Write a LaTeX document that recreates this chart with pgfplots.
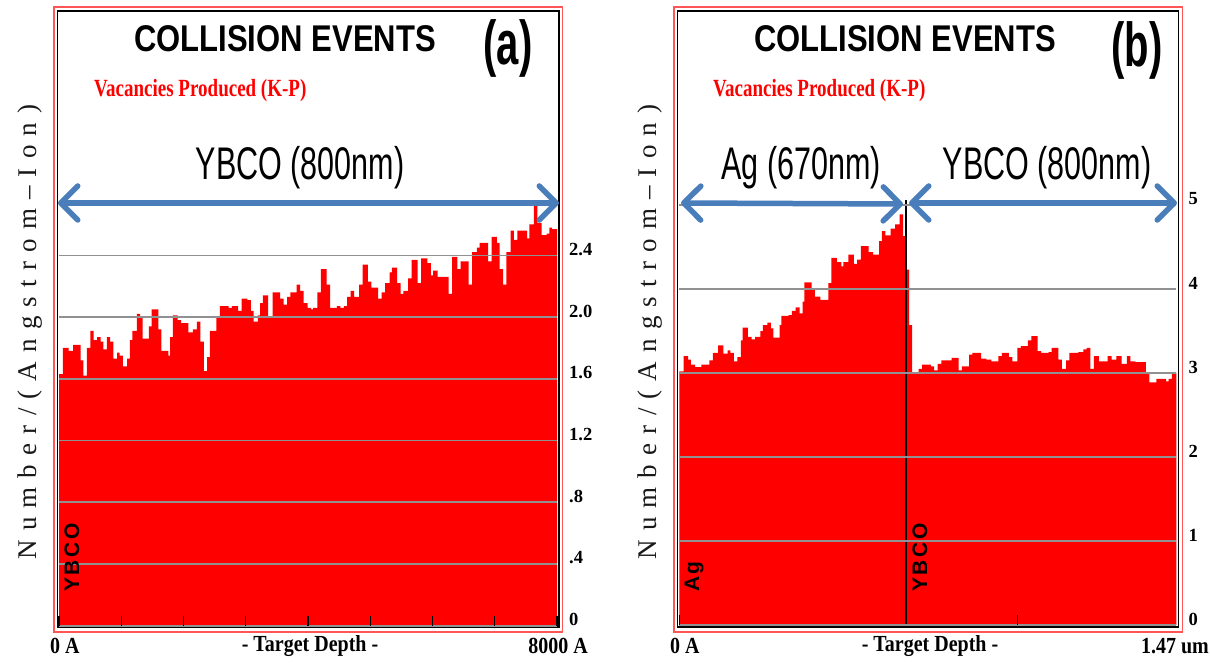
\documentclass[border=0pt]{standalone}
\usepackage{fontspec}
\setmainfont{Liberation Serif}
\setsansfont{Liberation Sans}
\newfontfamily\spacedserif[LetterSpace=34]{Liberation Serif}
\newfontfamily\spacedsans[LetterSpace=12]{Liberation Sans}
\usepackage{graphicx}
\usepackage{pgfplots}
\pgfplotsset{compat=1.18}
\usetikzlibrary{arrows.meta}

\definecolor{arrowblue}{RGB}{74,126,187}
\definecolor{framered}{RGB}{255,85,85}
\definecolor{gridgray}{RGB}{145,145,145}

\pgfplotsset{srim/.style={
  scale only axis, axis on top, anchor=south west,
  axis line style={draw=none},
  ymin=0, ymajorgrids, grid style={gridgray, line width=1.6pt},
  tick align=inside, major tick length=10pt,
  xtick pos=lower, xtick style={black, line width=1.3pt},
  ytick style={draw=none}, yticklabel pos=right,
  xticklabels={},
  yticklabel style={font=\fontsize{18.5}{18.5}\selectfont\bfseries, anchor=west,
    inner sep=0pt, xshift=12pt, yshift=6pt},
}}

\newcommand{\paneltitle}[1]{\scalebox{1}[1.2]{\fontsize{31}{31}\selectfont\sffamily\bfseries #1}}
\newcommand{\panelletter}[1]{\scalebox{1}[1.55]{\fontsize{40}{40}\selectfont\sffamily\bfseries #1}}
\newcommand{\vacancies}{\scalebox{1}[1.3]{\fontsize{19}{19}\selectfont\bfseries Vacancies Produced (K-P)}}
\newcommand{\layer}[1]{\scalebox{1}[1.5]{\fontsize{30.5}{30.5}\selectfont\sffamily #1}}
\newcommand{\ylab}{\fontsize{27}{27}\selectfont\spacedserif Number/(Angstrom\textendash Ion)}
\newcommand{\inlab}[1]{\fontsize{21}{21}\selectfont\spacedsans\bfseries #1}
\newcommand{\depth}[1]{\scalebox{1}[1.15]{\fontsize{20}{20}\selectfont\bfseries #1}}

\begin{document}
\begin{tikzpicture}[x=1pt,y=1pt]
\path[use as bounding box] (0,0) rectangle (1210,662);

% panel frames
\draw[framered, line width=1.5pt] (54,30) rectangle (562.5,655);
\draw[black, line width=1.6pt] (57.5,35) rectangle (559,651);
\draw[framered, line width=1.5pt] (674,30) rectangle (1182.5,655);
\draw[black, line width=1.6pt] (677.5,35) rectangle (1178.5,651);

% (a) YBCO single layer
\begin{axis}[srim, at={(59pt,36.3pt)}, width=498pt, height=614.7pt,
  xmin=0, xmax=8000, ymax=3.983,
  xtick={0,1000,2000,3000,4000,5000,6000,7000,8000},
  ytick={0,0.4,0.8,1.2,1.6,2.0,2.4},
  yticklabels={0,.4,.8,1.2,1.6,2.0,2.4}]
\addplot[fill=red, draw=none, const plot mark left] coordinates {
(0,1.63) (61,1.80) (155,1.78) (227,1.82) (348,1.72) (392,1.62) (448,1.80)
(503,1.91) (558,1.85) (613,1.87) (669,1.84) (713,1.79) (768,1.87) (823,1.84)
(873,1.73) (934,1.77) (972,1.75) (1028,1.68) (1094,1.73) (1138,1.85) (1177,1.91)
(1249,2.02) (1304,2.00) (1343,1.86) (1442,1.94) (1486,2.05) (1597,1.92) (1646,1.78)
(1757,1.75) (1785,1.87) (1829,2.01) (1906,1.98) (1961,1.96) (2077,1.90) (2149,1.92)
(2216,1.97) (2271,1.84) (2326,1.65) (2381,1.74) (2425,1.91) (2530,2.00) (2586,2.07)
(2724,2.06) (2779,2.07) (2878,2.04) (2934,2.12) (3028,2.11) (3083,2.04) (3127,1.97)
(3193,2.01) (3232,2.09) (3276,2.14) (3359,2.00) (3431,2.16) (3553,2.12) (3608,2.08)
(3663,2.13) (3718,2.16) (3818,2.21) (3873,2.17) (3928,2.09) (3995,2.06) (4050,2.05)
(4083,2.06) (4149,2.16) (4205,2.31) (4298,2.21) (4354,2.06) (4409,2.06) (4464,2.07)
(4519,2.06) (4575,2.07) (4630,2.13) (4685,2.17) (4740,2.13) (4823,2.21) (4879,2.34)
(4961,2.23) (5017,2.19) (5127,2.12) (5182,2.16) (5238,2.22) (5310,2.29) (5348,2.32)
(5431,2.22) (5486,2.15) (5531,2.17) (5608,2.25) (5663,2.37) (5762,2.22) (5818,2.38)
(5917,2.35) (5973,2.27) (6011,2.30) (6083,2.26) (6260,2.15) (6315,2.39) (6398,2.31)
(6453,2.36) (6580,2.21) (6636,2.42) (6713,2.45) (6757,2.48) (6895,2.36) (6951,2.52)
(7033,2.48) (7078,2.31) (7133,2.21) (7188,2.42) (7254,2.56) (7309,2.50) (7365,2.56)
(7519,2.51) (7558,2.60) (7630,2.74) (7685,2.61) (7751,2.53) (7834,2.54) (7878,2.58)
(7917,2.57) (8000,2.57)
} \closedcycle;
\end{axis}

% (b) Ag / YBCO bilayer, depth in nm
\begin{axis}[srim, at={(679.3pt,37pt)}, width=497pt, height=614pt,
  xmin=0, xmax=1470, ymax=7.31,
  xtick={0,1000},
  ytick={0,1,2,3,4,5},
  yticklabels={0,1,2,3,4,5}]
\addplot[fill=red, draw=none, const plot mark left] coordinates {
(0,3.02) (12.5,3.20) (26,3.16) (34.4,3.10) (46.9,3.07) (65.6,3.10) (88.6,3.15)
(99,3.24) (114.6,3.33) (130,3.23) (142.8,3.27) (151,3.24) (161.5,3.14) (172,3.19)
(182,3.39) (187.6,3.54) (203,3.43) (213.6,3.40) (224,3.43) (239.7,3.50) (247,3.57)
(260.5,3.60) (271,3.53) (278,3.42) (297,3.57) (302,3.68) (323,3.69) (333,3.74)
(344,3.78) (356,3.71) (365,3.85) (370,4.08) (391,3.99) (401,3.91) (417,3.87)
(441,4.07) (450,4.37) (466,4.32) (479,4.27) (485,4.32) (500,4.41) (516,4.30)
(526,4.35) (537,4.51) (560,4.44) (573,4.41) (591,4.57) (599,4.69) (609.6,4.64)
(625,4.72) (638,4.77) (651.5,4.89) (662,4.63)
(670,4.23) (680,3.57) (688.5,3.00) (708,3.05) (718,3.10) (744,3.08) (754,3.03)
(764,3.11) (775,3.15) (795,3.15) (805.5,3.18) (826,3.03) (836,3.08) (857,3.22)
(867,3.24) (892.6,3.17) (908,3.16) (923,3.14) (944,3.20) (954,3.24) (974.6,3.19)
(985,3.14) (1000,3.30) (1010.5,3.32) (1031,3.39) (1041,3.44) (1060,3.26) (1070,3.24)
(1092.6,3.25) (1101,3.30) (1121,3.16) (1131.5,3.05) (1144,3.15) (1154,3.24) (1180,3.25)
(1195,3.28) (1205,3.30) (1215.6,3.05) (1226,3.20) (1241,3.14) (1252,3.14) (1267,3.20)
(1279,3.16) (1293,3.20) (1308,3.11) (1323.6,3.20) (1334,3.14) (1349,3.13) (1380,3.01)
(1390,2.89) (1411,2.93) (1440,2.90) (1447,2.93) (1457,3.00) (1470,3.00)
} \closedcycle;
% Ag/YBCO interface at 670 nm
\draw[black, line width=2.5pt] (axis cs:670,0) -- (axis cs:670,5.06);
\end{axis}

% layer thickness arrows
\tikzset{layerarrow/.style={draw=arrowblue, line width=5.5pt, line cap=round,
  {Straight Barb[length=17pt, width=34pt, round]}-{Straight Barb[length=17pt, width=34pt, round]}}}
\draw[layerarrow] (58,459) -- (559,459);
\draw[layerarrow] (681,459) -- (903,458);
\draw[layerarrow] (909,459) -- (1177,459);

% titles and annotations
\node at (285,623) {\paneltitle{COLLISION EVENTS}};
\node at (905,623) {\paneltitle{COLLISION EVENTS}};
\node at (508,614) {\panelletter{(a)}};
\node at (1137,612) {\panelletter{(b)}};
\node[anchor=west, text=red, inner sep=0pt] at (94,571) {\vacancies};
\node[anchor=west, text=red, inner sep=0pt] at (713,571) {\vacancies};
\node at (300,494) {\layer{YBCO (800nm)}};
\node at (801,494) {\layer{Ag (670nm)}};
\node at (1047,494) {\layer{YBCO (800nm)}};

% y-axis titles
\node[rotate=90, text=black!90] at (30,330) {\ylab};
\node[rotate=90, text=black!90] at (650,330) {\ylab};

% layer names inside the plots
\node[rotate=90, anchor=west, inner sep=0pt] at (72,70) {\inlab{YBCO}};
\node[rotate=90, anchor=west, inner sep=0pt] at (694,70) {\inlab{Ag}};
\node[rotate=90, anchor=west, inner sep=0pt] at (920,70) {\inlab{YBCO}};

% depth axis captions
\node[anchor=west, inner sep=0pt] at (50,16) {\depth{0 A}};
\node[inner sep=0pt] at (310,16) {\depth{- Target Depth -}};
\node[anchor=east, inner sep=0pt] at (588,16) {\depth{8000 A}};
\node[anchor=west, inner sep=0pt] at (670,16) {\depth{0 A}};
\node[inner sep=0pt] at (930,16) {\depth{- Target Depth -}};
\node[anchor=east, inner sep=0pt] at (1209,16) {\depth{1.47 um}};
\end{tikzpicture}
\end{document}
